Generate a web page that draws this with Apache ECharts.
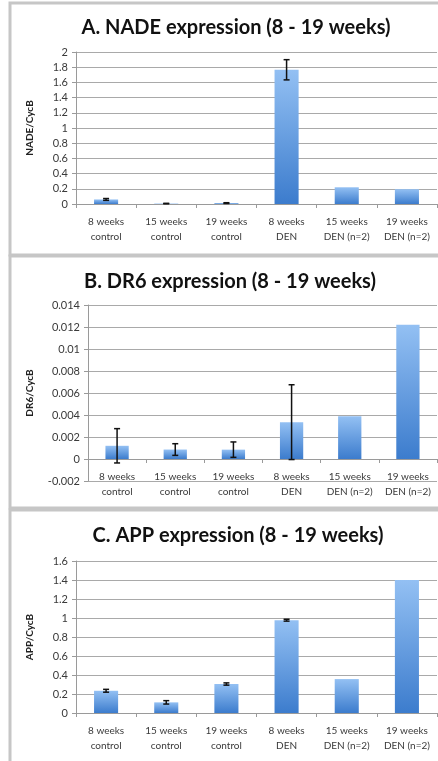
<!DOCTYPE html>
<html>
<head>
<meta charset="utf-8">
<script src="https://cdn.jsdelivr.net/npm/echarts@6/dist/echarts.min.js"></script>
<style>
  html, body { margin: 0; padding: 0; background: #fff; }
  #chart { width: 438px; height: 761px; }
</style>
</head>
<body>
<div id="chart"></div>
<script>
// data
const categories = ['8 weeks\ncontrol', '15 weeks\ncontrol', '19 weeks\ncontrol', '8 weeks\nDEN', '15 weeks\nDEN (n=2)', '19 weeks\nDEN (n=2)']

const nadeValues = [0.06, 0.006, 0.012, 1.766, 0.22, 0.195]
const nadeErrors = [0.012, 0.003, 0.005, 0.133, null, null]

const dr6Values = [0.0012, 0.00086, 0.00085, 0.00335, 0.00388, 0.0122]
const dr6Errors = [0.00156, 0.00053, 0.0007, 0.0034, null, null]

const appValues = [0.234, 0.112, 0.305, 0.977, 0.357, 1.4]
const appErrors = [0.015, 0.018, 0.012, 0.01, null, null]

const titles = ['A. NADE expression (8 - 19 weeks)', 'B. DR6 expression (8 - 19 weeks)', 'C. APP expression (8 - 19 weeks)']
const yNames = ['NADE/CycB', 'DR6/CycB', 'APP/CycB']

const chart = echarts.init(document.getElementById('chart'))

const barColor = new echarts.graphic.LinearGradient(0, 0, 0, 1, [
  { offset: 0, color: '#93c0f3' },
  { offset: 1, color: '#3c7ccd' }
])
const gridColor = '#a9a9a9'
const textColor = '#3a3a3a'

// error bars drawn through the axes
function errorSeries(idx, values, errors) {
  const data = []
  values.forEach((v, i) => {
    if (errors[i] != null) data.push([i, v - errors[i], v + errors[i]])
  })
  return {
    type: 'custom',
    xAxisIndex: idx,
    yAxisIndex: idx,
    z: 10,
    data: data,
    renderItem: (params, api) => {
      const lo = api.coord([api.value(0), api.value(1)])
      const hi = api.coord([api.value(0), api.value(2)])
      const w = 3
      const st = { stroke: '#111', lineWidth: 1.5 }
      return {
        type: 'group',
        children: [
          { type: 'line', shape: { x1: hi[0], y1: hi[1], x2: lo[0], y2: lo[1] }, style: st },
          { type: 'line', shape: { x1: hi[0] - w, y1: hi[1], x2: hi[0] + w, y2: hi[1] }, style: st },
          { type: 'line', shape: { x1: lo[0] - w, y1: lo[1], x2: lo[0] + w, y2: lo[1] }, style: st }
        ]
      }
    }
  }
}

const grids = [
  { left: 76, top: 52, width: 361, height: 152 },
  { left: 88, top: 305, width: 349, height: 176 },
  { left: 76, top: 561, width: 361, height: 152 }
]
const yRanges = [
  { min: 0, max: 2, interval: 0.2 },
  { min: -0.002, max: 0.014, interval: 0.002 },
  { min: 0, max: 1.6, interval: 0.2 }
]
const nameGaps = [41, 53, 41]
const titleTops = [13, 267, 521]
const titleCenters = [231, 225, 233]

// the category axis sits on the zero line (B goes below zero)
const xOffsets = yRanges.map((r, i) => -grids[i].height * (0 - r.min) / (r.max - r.min))

const option = {
  animation: false,
  title: titles.map((t, i) => ({
    text: t,
    left: titleCenters[i],
    top: titleTops[i],
    textAlign: 'center',
    textStyle: { fontFamily: 'Lato', fontWeight: 'bold', fontSize: 20, color: '#111' }
  })),
  graphic: [
    { type: 'rect', shape: { x: 10, y: 3, width: 440, height: 252 }, style: { fill: 'none', stroke: '#c6c6c6', lineWidth: 3 }, z: -1 },
    { type: 'rect', shape: { x: 10, y: 256, width: 440, height: 252 }, style: { fill: 'none', stroke: '#c6c6c6', lineWidth: 3 }, z: -1 },
    { type: 'rect', shape: { x: 10, y: 510, width: 440, height: 260 }, style: { fill: 'none', stroke: '#c6c6c6', lineWidth: 3 }, z: -1 }
  ],
  grid: grids,
  xAxis: grids.map((g, i) => ({
    type: 'category',
    gridIndex: i,
    data: categories,
    offset: xOffsets[i],
    axisLine: { onZero: false, lineStyle: { color: '#9a9a9a' } },
    axisTick: { show: true, length: 4, lineStyle: { color: '#9a9a9a' } },
    axisLabel: { fontFamily: 'Lato', fontSize: 10, color: textColor, lineHeight: 15, margin: 10, interval: 0 }
  })),
  yAxis: grids.map((g, i) => ({
    type: 'value',
    gridIndex: i,
    min: yRanges[i].min,
    max: yRanges[i].max,
    interval: yRanges[i].interval,
    name: yNames[i],
    nameLocation: 'middle',
    nameGap: nameGaps[i],
    nameTextStyle: { fontFamily: 'Lato', fontWeight: 'bold', fontSize: 10, color: '#222' },
    axisLine: { show: true, lineStyle: { color: '#9a9a9a' } },
    axisTick: { show: true, length: 4, lineStyle: { color: '#9a9a9a' } },
    axisLabel: { fontFamily: 'Lato', fontSize: 11, color: textColor, margin: 8 },
    splitLine: { lineStyle: { color: gridColor, width: 1 } }
  })),
  series: [
    { type: 'bar', xAxisIndex: 0, yAxisIndex: 0, data: nadeValues, barWidth: '40%', itemStyle: { color: barColor } },
    { type: 'bar', xAxisIndex: 1, yAxisIndex: 1, data: dr6Values, barWidth: '40%', itemStyle: { color: barColor } },
    { type: 'bar', xAxisIndex: 2, yAxisIndex: 2, data: appValues, barWidth: '40%', itemStyle: { color: barColor } },
    errorSeries(0, nadeValues, nadeErrors),
    errorSeries(1, dr6Values, dr6Errors),
    errorSeries(2, appValues, appErrors)
  ]
}
chart.setOption(option)
</script>
</body>
</html>
